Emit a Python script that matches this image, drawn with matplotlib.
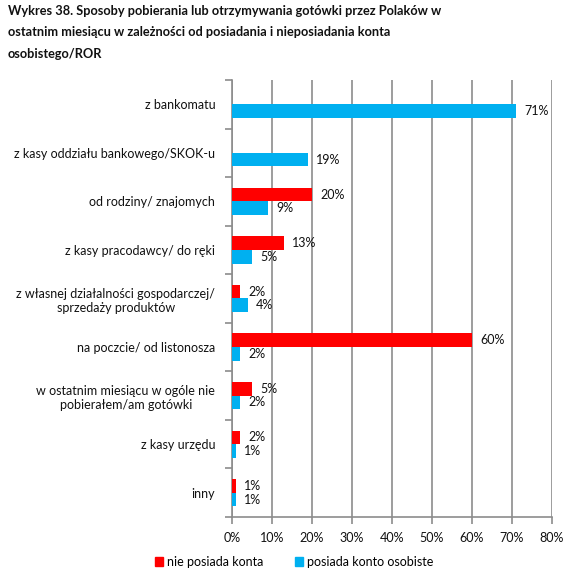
import numpy as np
import matplotlib.pyplot as plt
from matplotlib.patches import Patch
from matplotlib.ticker import FixedLocator

plt.rcParams['font.family'] = ['Lato', 'DejaVu Sans']

title = ("Wykres 38. Sposoby pobierania lub otrzymywania gotówki przez Polaków w\n"
         "ostatnim miesiącu w zależności od posiadania i nieposiadania konta\n"
         "osobistego/ROR")

categories = [
    "z bankomatu",
    "z kasy oddziału bankowego/SKOK-u",
    "od rodziny/ znajomych",
    "z kasy pracodawcy/ do ręki",
    "z własnej działalności gospodarczej/\nsprzedaży produktów",
    "na poczcie/ od listonosza",
    "w ostatnim miesiącu w ogóle nie\npobierałem/am gotówki",
    "z kasy urzędu",
    "inny",
]
# None = no bar / no label
nie_posiada = [None, None, 20, 13, 2, 60, 5, 2, 1]
posiada = [71, 19, 9, 5, 4, 2, 2, 1, 1]
series_names = ["nie posiada konta", "posiada konto osobiste"]
xticks = np.arange(0, 81, 10)

red = "#FF0000"
blue = "#00B0F0"
txt = "#111111"

fig = plt.figure(figsize=(5.76, 5.86), dpi=100)
ax = fig.add_axes([232 / 576, 1 - 517 / 586, 320 / 576, 437 / 586])

n = len(categories)
y = np.arange(n)
h = 0.28

for i in range(n):
    r = nie_posiada[i]
    b = posiada[i]
    if r is not None:
        ax.barh(y[i] - h / 2, r, height=h, color=red, zorder=3)
        ax.text(r + 2, y[i] - h / 2, f"{r}%", va="center", ha="left",
                fontsize=9, color=txt)
    ax.barh(y[i] + h / 2, b, height=h, color=blue, zorder=3)
    ax.text(b + 2, y[i] + h / 2, f"{b}%", va="center", ha="left",
            fontsize=9, color=txt)

ax.set_xlim(0, 80)
ax.set_ylim(n - 0.5, -0.5)
ax.set_xticks(xticks)
ax.set_xticklabels([f"{t}%" for t in xticks], fontsize=9, color=txt)
ax.grid(axis="x", color="#8c8c8c", linewidth=1.2, zorder=0)

ax.set_yticks(y)
ax.set_yticklabels(categories, fontsize=9, color=txt, multialignment="center")
ax.tick_params(axis="y", length=0, pad=12)
ax.yaxis.set_minor_locator(FixedLocator(np.arange(-0.5, n, 1)))
ax.tick_params(axis="y", which="minor", length=5, color="#8c8c8c", width=1.2)
ax.tick_params(axis="x", length=5, color="#8c8c8c", width=1.2, pad=6)

for s in ["top", "right"]:
    ax.spines[s].set_visible(False)
for s in ["left", "bottom"]:
    ax.spines[s].set_color("#8c8c8c")
    ax.spines[s].set_linewidth(1.2)

fig.text(8 / 576, 1 - 5 / 586, title, ha="left", va="top", fontsize=9.2,
         fontweight="bold", linespacing=1.95, color=txt)

handles = [Patch(color=red), Patch(color=blue)]
fig.legend(handles, series_names, loc="center", bbox_to_anchor=(294 / 576, 1 - 562 / 586),
           ncol=2, frameon=False, fontsize=9, handlelength=0.7, handleheight=0.7,
           handletextpad=0.3, columnspacing=2.5)

fig.savefig("out.png", dpi=100)
